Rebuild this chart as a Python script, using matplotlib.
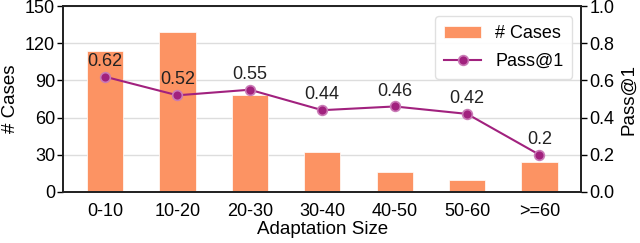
import matplotlib
matplotlib.use("Agg")
import matplotlib.pyplot as plt
import numpy as np

categories = ["0-10", "10-20", "20-30", "30-40", "40-50", "50-60", ">=60"]
cases = [114, 129, 78, 32, 16, 10, 24]
pass1 = [0.62, 0.52, 0.55, 0.44, 0.46, 0.42, 0.20]

plt.rcParams['font.family'] = ['Liberation Sans', 'DejaVu Sans']
plt.rcParams['font.size'] = 13

fig, ax = plt.subplots(figsize=(6.4, 2.43), dpi=100)
x = np.arange(len(categories))
bars = ax.bar(x, cases, width=0.5, color='#FC9363', edgecolor='white', linewidth=0.5,
              label='# Cases', zorder=2)
ax.set_ylim(0, 150)
ax.set_yticks([0, 30, 60, 90, 120, 150])
ax.set_ylabel('# Cases', fontsize=13.5, labelpad=4)
ax.set_xlabel('Adaptation Size', fontsize=13.5, labelpad=1)
ax.set_xticks(x)
ax.set_xticklabels(categories)
ax.tick_params(axis='x', length=0, labelsize=13, pad=8)
ax.tick_params(axis='y', length=4, width=1, labelsize=13, pad=2)
ax.grid(axis='y', color='#dddddd', linewidth=1, zorder=0)
ax.set_axisbelow(True)
for s in ax.spines.values():
    s.set_linewidth(1.25)
    s.set_color('#222222')

ax2 = ax.twinx()
line, = ax2.plot(x, pass1, color='#A1217E', linewidth=1.5, marker='o', markersize=7,
                 markerfacecolor='#A1217E', markeredgecolor='#C97AB6', markeredgewidth=1.2,
                 label='Pass@1', zorder=3)
ax2.set_ylim(0, 1.0)
ax2.set_yticks([0, 0.2, 0.4, 0.6, 0.8, 1.0])
ax2.set_ylabel('Pass@1', fontsize=13.5, labelpad=4)
ax2.tick_params(axis='y', length=4, width=1, labelsize=13, pad=2)
for s in ax2.spines.values():
    s.set_linewidth(1.25)
    s.set_color('#222222')
for xi, v in zip(x, pass1):
    ax2.annotate(f"{v:g}", (xi, v), textcoords='offset points', xytext=(0, 5),
                 ha='center', va='bottom', fontsize=13, color='#222222')

ax.set_xlim(-0.575, 6.575)
h1, l1 = ax.get_legend_handles_labels()
h2, l2 = ax2.get_legend_handles_labels()
ax2.legend(h1 + h2, l1 + l2, loc='upper right', fontsize=13, frameon=True,
           fancybox=True, framealpha=0.9, edgecolor='#dddddd', borderpad=0.5,
           handlelength=2.0, labelspacing=0.6, borderaxespad=0,
           bbox_to_anchor=(0.983, 0.946))

fig.subplots_adjust(left=0.099, right=0.908, top=0.975, bottom=0.21)
fig.savefig('out.png', dpi=100)
